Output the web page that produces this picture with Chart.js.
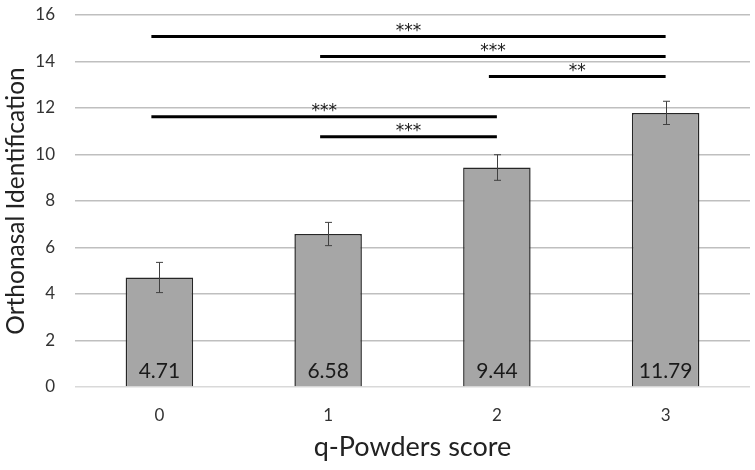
<!DOCTYPE html>
<html>
<head>
<meta charset="utf-8">
<script src="https://cdn.jsdelivr.net/npm/chart.js@4"></script>
<style>
  html, body { margin: 0; padding: 0; background: #fff; }
  #wrap { width: 755px; height: 470px; }
</style>
</head>
<body>
<div id="wrap"><canvas id="scoreChart"></canvas></div>
<script>
const categories = ['0', '1', '2', '3'];
const means = [4.71, 6.58, 9.44, 11.79];
const errors = [0.65, 0.5, 0.55, 0.5];

// pairwise comparisons: from bar, to bar, height of the bracket, stars
const sigFrom = [0, 1, 2, 0, 1];
const sigTo = [3, 3, 3, 2, 2];
const sigLevel = [15.07, 14.21, 13.35, 11.62, 10.76];
const sigStars = ['***', '***', '**', '***', '***'];

const FONT = 'Lato, "Open Sans", sans-serif';

const extras = {
    id: 'extras',
    afterDatasetsDraw(chart) {
        const ctx = chart.ctx;
        const x = chart.scales.x;
        const y = chart.scales.y;
        ctx.save();

        // error bars
        ctx.strokeStyle = '#404040';
        ctx.lineWidth = 1;
        means.forEach((m, i) => {
            const cx = Math.round(x.getPixelForValue(i)) + 0.5;
            const top = y.getPixelForValue(m + errors[i]);
            const bot = y.getPixelForValue(m - errors[i]);
            ctx.beginPath();
            ctx.moveTo(cx, top); ctx.lineTo(cx, bot);
            ctx.moveTo(cx - 3.5, top); ctx.lineTo(cx + 3.5, top);
            ctx.moveTo(cx - 3.5, bot); ctx.lineTo(cx + 3.5, bot);
            ctx.stroke();
        });

        // value labels inside the bars
        ctx.fillStyle = '#1a1a1a';
        ctx.font = '21px ' + FONT;
        ctx.textAlign = 'center';
        ctx.textBaseline = 'alphabetic';
        means.forEach((m, i) => {
            ctx.fillText(m.toFixed(2), x.getPixelForValue(i), y.getPixelForValue(0) - 9);
        });

        // significance brackets
        ctx.strokeStyle = '#000';
        ctx.lineWidth = 3;
        ctx.font = '17px "DejaVu Sans", sans-serif';
        ctx.fillStyle = '#1a1a1a';
        sigFrom.forEach((f, k) => {
            const x1 = x.getPixelForValue(f) - 8;
            const x2 = x.getPixelForValue(sigTo[k]);
            const ly = y.getPixelForValue(sigLevel[k]);
            ctx.beginPath();
            ctx.moveTo(x1, ly); ctx.lineTo(x2, ly);
            ctx.stroke();
            ctx.fillText(sigStars[k], (x1 + x2) / 2, ly - 1);
        });
        ctx.restore();
    }
};

new Chart(document.getElementById('scoreChart'), {
    type: 'bar',
    data: {
        labels: categories,
        datasets: [{
            data: means,
            backgroundColor: '#a6a6a6',
            borderColor: '#262626',
            borderWidth: 1.5,
            barPercentage: 0.4,
            categoryPercentage: 1
        }]
    },
    options: {
        responsive: true,
        maintainAspectRatio: false,
        animation: false,
        layout: { padding: { top: 15, right: 5, left: 0, bottom: 0 } },
        plugins: { legend: { display: false }, tooltip: { enabled: false } },
        scales: {
            x: {
                grid: { display: false, drawTicks: false },
                border: { display: false },
                ticks: { color: '#333', font: { family: FONT, size: 17 }, padding: 18 },
                title: {
                    display: true, text: 'q-Powders score', color: '#222',
                    font: { family: FONT, size: 27, lineHeight: 1.2 },
                    padding: { top: 0, bottom: 7 }
                },
                afterFit(scale) { scale.height = 83; }
            },
            y: {
                min: 0, max: 16,
                grid: {
                    color: ctx => ctx.tick && ctx.tick.value === 0 ? '#d9d9d9' : '#bfbfbf',
                    lineWidth: 1.5,
                    drawTicks: true,
                    tickLength: 20,
                    tickColor: 'rgba(0,0,0,0)'
                },
                border: { display: false },
                ticks: { stepSize: 2, color: '#333', font: { family: FONT, size: 17 }, padding: 0 },
                title: {
                    display: true, text: 'Orthonasal Identification', color: '#222',
                    font: { family: FONT, size: 24.5, lineHeight: 1.2 },
                    padding: { top: 1, bottom: 0 }
                },
                afterFit(scale) { scale.width = 75; }
            }
        }
    },
    plugins: [extras]
});
</script>
</body>
</html>
